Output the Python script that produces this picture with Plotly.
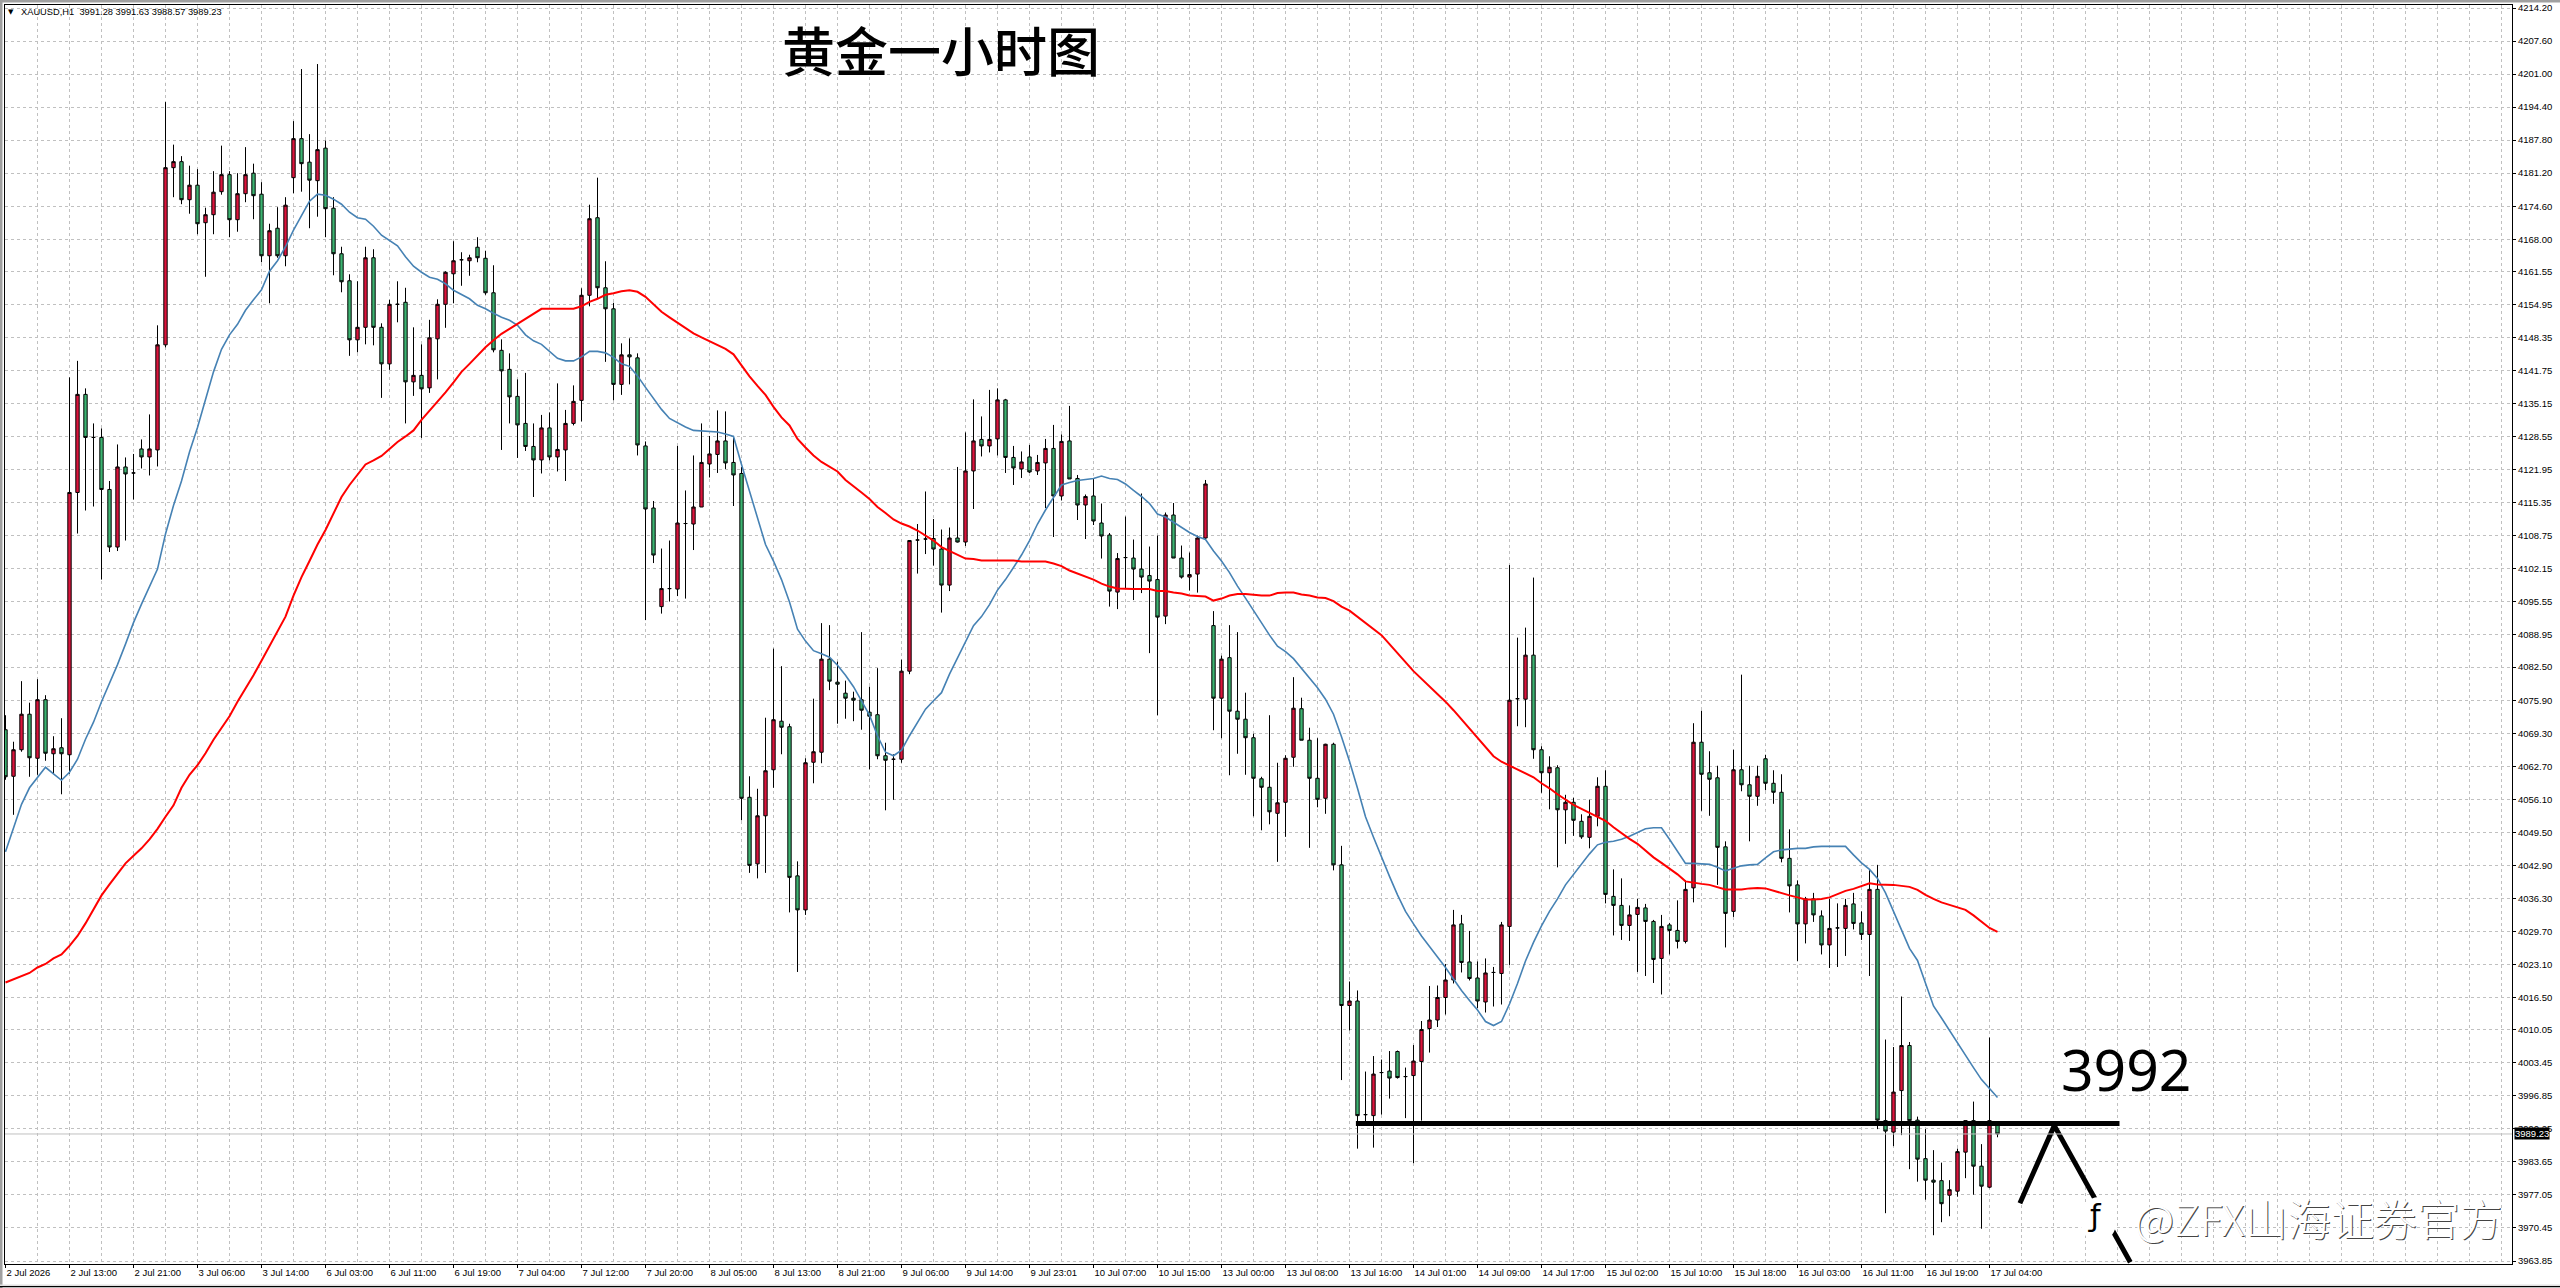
import plotly.graph_objects as go

highs = [
4072.9,4067.6,4079.7,4075.4,4080.1,4076.9,4068.7,4072.3,4140.4,4143.7,
4138.2,4131.2,4130.2,4119.7,4127.0,4124.4,4125.1,4128.0,4133.0,4150.8,
4195.4,4186.9,4184.6,4182.7,4182.0,4174.3,4181.6,4186.7,4181.6,4181.2,
4186.4,4183.1,4179.4,4171.1,4174.4,4176.4,4191.6,4202.0,4189.0,4203.0,
4187.7,4176.4,4166.5,4161.0,4159.6,4166.5,4166.0,4151.2,4155.9,4159.6,
4158.3,4150.4,4147.0,4151.9,4156.0,4161.6,4167.6,4165.4,4164.9,4168.4,
4165.7,4162.8,4148.0,4145.2,4140.0,4141.3,4131.2,4132.9,4133.4,4139.2,
4133.9,4138.8,4158.2,4174.9,4180.3,4163.6,4155.3,4147.2,4148.2,4145.2,
4127.6,4115.7,4106.2,4107.8,4126.7,4117.8,4124.8,4131.2,4128.7,4133.8,
4133.6,4128.7,4122.5,4060.7,4058.2,4072.4,4086.2,4082.7,4071.2,4043.7,
4064.3,4076.2,4091.3,4090.9,4083.6,4079.8,4077.6,4089.5,4078.6,4082.3,
4067.4,4065.1,4084.0,4107.8,4111.1,4117.6,4112.1,4110.0,4110.4,4122.5,
4129.4,4136.0,4132.6,4137.9,4138.2,4136.1,4126.7,4125.6,4126.9,4124.9,
4128.1,4130.9,4129.0,4134.7,4120.9,4117.0,4120.1,4115.2,4109.3,4105.3,
4112.6,4108.0,4117.2,4106.6,4108.8,4113.4,4115.3,4106.8,4105.4,4108.8,
4119.9,4093.7,4084.8,4090.9,4089.5,4077.4,4069.2,4060.6,4072.9,4063.4,
4064.9,4080.5,4076.4,4070.4,4068.3,4067.2,4067.4,4046.8,4019.7,4017.9,
4001.7,4004.8,4004.1,4005.8,4005.9,4002.5,4007.0,4011.8,4018.8,4018.9,
4023.2,4034.0,4033.0,4029.8,4023.7,4024.3,4022.6,4031.6,4102.9,4088.4,
4090.4,4100.4,4066.7,4064.7,4062.9,4057.0,4056.4,4053.1,4056.0,4060.5,
4061.9,4042.1,4040.3,4034.9,4036.2,4035.2,4032.0,4033.0,4031.4,4035.9,
4039.9,4071.3,4073.8,4065.7,4062.8,4047.7,4066.0,4081.0,4062.8,4062.8,
4065.0,4061.9,4061.1,4050.1,4039.9,4036.6,4037.4,4033.9,4036.2,4035.3,
4036.2,4037.4,4033.7,4042.1,4043.0,4008.1,4006.6,4016.7,4007.6,3992.7,
3990.2,3986.0,3983.5,3980.0,3986.3,3991.9,3995.7,3987.2,4008.5,3991.63]

opens = [
4070.0,4060.7,4066.0,4073.1,4064.3,4076.0,4065.2,4066.4,4065.0,4117.4,
4137.0,4128.4,4128.4,4118.0,4106.5,4122.5,4121.3,4126.1,4124.5,4125.9,
4146.9,4182.3,4183.5,4175.9,4178.8,4171.3,4172.9,4177.5,4180.9,4171.9,
4177.1,4181.2,4177.0,4164.7,4170.2,4164.7,4180.3,4188.1,4183.4,4179.7,
4186.2,4174.2,4165.1,4159.7,4147.9,4150.4,4164.3,4150.4,4143.1,4155.0,
4155.4,4139.5,4140.8,4138.3,4148.1,4155.0,4161.1,4163.9,4163.7,4166.4,
4164.2,4157.3,4145.8,4142.0,4136.6,4131.2,4126.6,4123.9,4130.3,4124.5,
4125.9,4131.2,4135.8,4156.8,4172.3,4158.3,4154.1,4139.0,4144.9,4144.3,
4126.7,4114.3,4094.6,4098.2,4098.1,4111.2,4111.1,4114.5,4123.1,4125.0,
4127.7,4123.4,4121.2,4056.5,4043.2,4052.8,4062.0,4071.7,4070.6,4040.8,
4034.0,4063.5,4065.5,4084.1,4079.5,4077.3,4076.3,4076.0,4073.5,4073.0,
4064.8,4064.1,4064.1,4081.7,4107.9,4108.1,4108.2,4106.1,4098.9,4108.3,
4107.5,4121.7,4128.0,4126.7,4128.1,4135.9,4124.4,4122.1,4124.5,4121.7,
4123.3,4126.2,4116.7,4127.7,4120.2,4114.9,4116.7,4111.3,4108.9,4097.5,
4104.4,4104.3,4102.1,4100.8,4100.0,4092.7,4112.9,4104.3,4100.5,4101.1,
4108.3,4090.8,4076.3,4084.4,4073.7,4072.1,4068.4,4060.2,4058.5,4053.3,
4055.5,4064.5,4074.2,4067.9,4060.3,4056.3,4067.1,4043.0,4014.9,4015.8,
3993.1,3992.9,4001.5,4001.8,4005.7,4000.7,4000.9,4003.7,4010.3,4012.0,
4016.5,4020.0,4031.2,4023.6,4020.4,4015.6,4021.5,4021.3,4030.7,4076.2,
4076.1,4084.9,4066.0,4061.4,4062.4,4054.0,4055.5,4051.7,4048.5,4052.7,
4058.7,4036.7,4034.9,4030.9,4033.1,4034.4,4031.7,4024.3,4031.0,4029.9,
4027.7,4038.4,4067.5,4061.4,4060.4,4046.6,4033.7,4062.0,4059.0,4056.7,
4064.2,4059.3,4057.5,4044.3,4039.0,4031.2,4036.2,4032.8,4027.0,4030.4,
4030.3,4035.2,4031.4,4029.1,4038.1,3991.9,3989.6,3997.9,4006.9,3992.0,
3984.3,3980.0,3979.9,3977.0,3977.8,3985.6,3991.9,3982.8,3978.6,3991.28]

closes = [
4060.6,4066.0,4073.1,4064.4,4076.0,4065.3,4066.2,4065.2,4117.4,4137.0,
4128.4,4128.4,4118.0,4106.5,4122.5,4121.1,4121.3,4124.5,4126.1,4146.9,
4182.3,4183.5,4175.9,4178.8,4171.1,4172.9,4177.4,4180.9,4171.9,4177.1,
4180.9,4176.7,4164.7,4169.7,4164.7,4174.8,4188.1,4183.1,4179.8,4185.9,
4174.1,4165.1,4159.5,4147.9,4150.4,4164.3,4150.4,4143.1,4155.0,4155.0,
4139.5,4140.8,4138.1,4148.3,4155.0,4161.4,4163.7,4163.9,4164.3,4164.3,
4157.3,4145.9,4141.7,4136.5,4130.9,4126.6,4123.9,4130.3,4124.5,4126.0,
4131.2,4135.6,4156.8,4172.1,4158.3,4154.1,4139.0,4144.9,4144.5,4126.9,
4114.1,4104.9,4098.2,4098.2,4111.3,4111.2,4114.5,4123.4,4125.1,4127.7,
4123.3,4120.9,4056.3,4042.9,4052.8,4061.8,4072.0,4070.5,4040.5,4034.0,
4063.4,4065.6,4084.1,4079.7,4079.1,4076.3,4075.9,4073.9,4072.7,4064.8,
4063.9,4064.1,4081.7,4107.8,4107.9,4108.1,4106.1,4098.9,4108.3,4107.5,
4121.7,4127.7,4126.7,4128.0,4135.9,4124.4,4122.3,4123.5,4121.5,4123.4,
4126.2,4116.7,4127.6,4120.1,4114.9,4116.6,4111.7,4108.7,4097.7,4104.2,
4104.4,4102.1,4100.5,4099.7,4092.5,4112.9,4104.3,4100.5,4101.0,4108.3,
4119.1,4076.3,4084.1,4073.7,4072.1,4068.4,4060.3,4058.5,4053.6,4055.4,
4064.3,4074.3,4067.9,4060.3,4056.1,4067.1,4043.0,4014.9,4015.8,3992.9,
3993.1,4001.2,4001.5,4000.4,4000.5,4000.7,4003.8,4010.1,4012.0,4016.5,
4020.0,4031.0,4023.5,4020.3,4015.8,4021.4,4021.5,4031.0,4075.9,4076.2,
4084.9,4066.0,4061.4,4062.5,4054.0,4055.5,4051.9,4048.6,4052.7,4058.7,
4037.1,4034.9,4030.9,4033.0,4034.5,4031.7,4024.1,4030.7,4029.9,4027.7,
4038.1,4067.5,4061.1,4060.1,4046.5,4033.3,4062.0,4059.0,4056.7,4060.7,
4059.3,4057.5,4044.3,4038.8,4031.2,4036.2,4033.0,4027.0,4030.3,4030.4,
4034.9,4031.3,4029.1,4038.1,3992.0,3989.8,3997.6,4006.9,3991.9,3984.2,
3980.0,3979.6,3975.3,3978.1,3985.7,3991.9,3982.8,3978.8,3991.9,3989.23]

lows = [
4060.0,4053.0,4065.6,4060.6,4061.0,4063.8,4061.2,4057.1,4061.2,4109.2,
4113.8,4114.6,4100.0,4105.5,4105.7,4107.8,4116.0,4122.2,4120.8,4122.6,
4146.4,4176.4,4175.0,4173.1,4169.0,4160.5,4169.0,4176.9,4168.4,4169.5,
4175.4,4172.0,4163.4,4155.2,4164.3,4162.6,4177.2,4177.5,4170.2,4172.5,
4168.4,4160.8,4157.4,4144.7,4145.4,4147.0,4146.8,4136.3,4141.9,4151.4,
4131.2,4136.7,4128.3,4137.3,4140.0,4150.3,4155.2,4158.7,4160.7,4163.4,
4156.9,4145.4,4125.9,4131.2,4124.3,4125.7,4116.5,4121.2,4123.8,4121.6,
4119.7,4130.8,4131.6,4154.6,4156.2,4143.5,4135.8,4136.9,4139.0,4124.8,
4091.9,4103.3,4093.2,4095.6,4096.7,4096.2,4105.9,4114.5,4120.4,4121.3,
4122.1,4114.7,4051.9,4041.4,4040.3,4041.4,4058.4,4065.1,4033.5,4021.6,
4033.0,4059.3,4063.3,4077.9,4071.2,4072.2,4071.7,4070.0,4062.1,4064.1,
4053.9,4056.0,4063.4,4081.1,4101.2,4105.1,4102.8,4093.4,4097.7,4107.4,
4106.7,4114.1,4124.6,4125.4,4124.8,4121.3,4118.9,4120.3,4121.3,4120.9,
4114.3,4108.5,4115.8,4120.1,4111.9,4108.1,4110.9,4104.2,4094.6,4094.1,
4098.2,4095.9,4097.3,4085.3,4072.9,4091.1,4104.3,4100.2,4097.8,4097.4,
4108.0,4069.9,4068.3,4060.9,4065.2,4061.0,4052.7,4049.9,4051.1,4043.6,
4048.6,4062.6,4067.9,4046.4,4054.5,4053.2,4041.9,4000.0,4009.9,3986.3,
3991.5,3986.5,3993.1,3996.3,4000.3,3992.4,3983.4,3991.9,4005.5,4010.6,
4013.1,4019.3,4021.5,4019.9,4014.4,4013.5,4014.7,4015.1,4023.0,4070.7,
4070.5,4064.2,4057.4,4054.1,4042.5,4047.2,4048.8,4048.2,4046.3,4050.7,
4035.3,4028.9,4028.0,4027.8,4021.6,4020.8,4019.4,4017.1,4025.1,4026.3,
4027.3,4035.5,4053.8,4052.8,4039.0,4026.5,4032.6,4057.7,4047.7,4054.8,
4057.9,4055.2,4043.5,4033.5,4023.8,4027.3,4031.6,4025.1,4022.4,4022.6,
4024.8,4030.1,4028.0,4020.8,3990.2,3973.4,3986.8,3989.0,3982.2,3979.7,
3976.1,3969.0,3971.6,3972.8,3976.7,3980.4,3977.1,3970.3,3978.4,3988.57]

fast_ma = [
4045.6,4050.2,4055.1,4058.4,4060.4,4062.5,4061.2,4059.9,4061.5,4064.1,
4068.1,4071.5,4075.6,4079.3,4083.0,4087.1,4091.4,4095.1,4098.6,4102.1,
4109.1,4114.8,4119.7,4125.5,4130.4,4136.2,4141.5,4146.0,4148.9,4151.0,
4153.8,4155.9,4157.9,4161.6,4163.7,4166.5,4169.8,4172.7,4175.6,4177.0,
4176.8,4176.0,4175.0,4173.4,4172.3,4172.0,4170.6,4168.8,4167.8,4166.7,
4164.5,4162.6,4161.4,4160.4,4160.0,4159.1,4157.8,4156.9,4156.1,4154.8,
4154.1,4153.2,4152.4,4151.8,4150.8,4148.9,4147.7,4147.0,4145.6,4144.2,
4143.7,4143.7,4144.5,4145.6,4145.6,4145.3,4144.4,4143.1,4142.6,4140.7,
4138.4,4136.3,4134.0,4132.2,4131.3,4130.5,4129.8,4129.7,4129.7,4129.5,
4129.1,4128.6,4123.0,4117.6,4112.3,4107.0,4103.7,4100.0,4095.5,4090.1,
4087.7,4085.8,4085.2,4084.5,4082.9,4080.9,4078.6,4075.8,4072.9,4068.8,
4065.5,4064.8,4065.9,4068.8,4071.6,4074.1,4075.8,4077.4,4081.1,4084.4,
4087.7,4090.8,4092.6,4095.0,4097.9,4100.0,4102.4,4104.9,4107.8,4111.1,
4113.9,4116.4,4118.9,4119.4,4119.8,4120.0,4120.2,4120.7,4120.2,4120.0,
4119.1,4117.8,4116.6,4115.2,4113.1,4112.5,4111.5,4110.4,4109.4,4108.6,
4108.0,4105.7,4103.7,4101.4,4098.7,4096.3,4093.8,4091.4,4088.9,4086.7,
4085.6,4084.2,4082.3,4080.3,4078.4,4076.1,4073.1,4068.6,4063.7,4058.3,
4052.6,4048.5,4044.4,4040.7,4037.0,4033.7,4031.2,4028.8,4026.7,4024.7,
4022.5,4020.2,4017.9,4015.9,4014.0,4011.7,4010.9,4011.7,4015.2,4019.3,
4023.8,4027.5,4030.8,4033.7,4036.2,4039.0,4041.1,4043.1,4045.2,4047.0,
4047.5,4047.7,4048.1,4048.7,4049.5,4050.2,4050.4,4050.4,4048.1,4045.6,
4043.3,4043.3,4043.2,4043.1,4042.5,4041.8,4042.3,4042.8,4043.0,4043.1,
4044.4,4045.6,4046.0,4046.2,4046.3,4046.3,4046.6,4046.7,4046.7,4046.7,
4046.7,4045.0,4043.4,4042.1,4040.3,4037.4,4033.7,4030.0,4026.3,4023.9,
4019.4,4014.8,4012.4,4009.9,4007.5,4004.8,4002.5,4000.1,3998.3,3996.5]

slow_ma = [
4019.5,4020.1,4020.8,4021.4,4022.5,4023.2,4024.3,4025.1,4026.8,4028.8,
4031.3,4034.1,4036.9,4039.1,4041.3,4043.3,4044.8,4046.3,4048.1,4050.2,
4052.6,4054.9,4058.4,4061.0,4062.9,4065.3,4068.0,4070.3,4072.7,4075.6,
4078.2,4080.9,4083.8,4086.7,4089.4,4092.6,4096.8,4100.5,4103.7,4107.0,
4109.9,4113.2,4116.5,4118.9,4121.0,4123.0,4123.8,4124.7,4126.1,4127.5,
4128.6,4129.8,4131.9,4133.7,4135.5,4137.4,4139.4,4141.5,4143.1,4144.8,
4146.4,4147.8,4149.1,4150.1,4151.1,4152.2,4153.2,4154.1,4154.1,4154.1,
4154.1,4154.1,4154.6,4155.5,4156.1,4156.9,4157.2,4157.6,4157.8,4157.5,
4156.5,4155.1,4153.5,4152.4,4151.3,4150.2,4149.2,4148.4,4147.6,4146.9,
4146.1,4145.0,4142.7,4140.6,4138.7,4136.9,4134.5,4132.4,4130.8,4128.1,
4126.4,4124.8,4123.5,4122.5,4121.6,4119.9,4118.7,4117.4,4116.1,4114.5,
4113.3,4112.0,4111.2,4110.6,4109.8,4108.8,4107.8,4106.5,4105.7,4104.9,
4104.2,4104.1,4103.8,4103.8,4103.8,4103.8,4103.8,4103.6,4103.6,4103.6,
4103.6,4103.2,4102.7,4101.8,4101.2,4100.5,4100.0,4099.2,4098.6,4098.2,
4098.1,4098.1,4098.1,4098.1,4097.7,4097.7,4097.4,4097.2,4096.8,4096.7,
4096.6,4095.8,4096.2,4096.8,4097.1,4097.1,4096.9,4096.8,4096.8,4097.3,
4097.4,4097.4,4097.0,4096.8,4096.4,4096.3,4095.7,4094.6,4093.8,4092.6,
4091.3,4090.2,4088.9,4087.1,4085.2,4083.5,4081.7,4080.2,4078.7,4077.2,
4075.6,4073.9,4072.1,4070.2,4068.4,4066.5,4064.7,4063.6,4062.8,4062.0,
4061.3,4060.5,4059.3,4058.3,4057.1,4056.0,4055.0,4054.2,4053.4,4052.6,
4051.8,4050.5,4049.3,4048.2,4047.2,4045.9,4044.5,4043.4,4042.3,4041.1,
4039.7,4039.4,4039.2,4039.0,4038.5,4038.1,4038.1,4038.1,4038.3,4038.4,
4038.3,4037.8,4037.4,4036.9,4036.5,4036.1,4036.1,4036.2,4036.5,4037.1,
4037.8,4038.2,4038.8,4039.3,4039.1,4039.1,4039.0,4038.8,4038.6,4038.0,
4037.0,4036.2,4035.5,4035.0,4034.5,4034.0,4032.9,4031.7,4030.4,4029.6]

price_ticks = [
"4214.20","4207.60","4201.00","4194.40","4187.80","4181.20","4174.60","4168.00","4161.55","4154.95",
"4148.35","4141.75","4135.15","4128.55","4121.95","4115.35","4108.75","4102.15","4095.55","4088.95",
"4082.50","4075.90","4069.30","4062.70","4056.10","4049.50","4042.90","4036.30","4029.70","4023.10",
"4016.50","4010.05","4003.45","3996.85","3990.25","3983.65","3977.05","3970.45","3963.85"]

time_labels = [
"2 Jul 2026","2 Jul 13:00","2 Jul 21:00","3 Jul 06:00","3 Jul 14:00","6 Jul 03:00","6 Jul 11:00","6 Jul 19:00",
"7 Jul 04:00","7 Jul 12:00","7 Jul 20:00","8 Jul 05:00","8 Jul 13:00","8 Jul 21:00","9 Jul 06:00","9 Jul 14:00",
"9 Jul 23:01","10 Jul 07:00","10 Jul 15:00","13 Jul 00:00","13 Jul 08:00","13 Jul 16:00","14 Jul 01:00","14 Jul 09:00",
"14 Jul 17:00","15 Jul 02:00","15 Jul 10:00","15 Jul 18:00","16 Jul 03:00","16 Jul 11:00","16 Jul 19:00","17 Jul 04:00"]

level_bar = [168.8, 264.25]
level_price = [3991.3, 3991.3]
arrow_bar = [251.8, 256.1, 265.6]
arrow_price = [3975.4, 3990.9, 3963.6]
last_price = 3989.23
title_text = "黄金一小时图"
info_text = "XAUUSD,H1  3991.28 3991.63 3988.57 3989.23"
level_text = "3992"
mark_text = "@ZFX山海证券官方"

W, H = 2560, 1288
L, R, T, B = 5, 2512, 5, 1264
PX_PER_BAR = 8.0
Y_TOP = 4214.2 + 3 / 5.005
Y_BOT = 4214.2 - (B - 8) / 5.005

assert all(len(a) == 250 for a in (highs, opens, closes, lows, fast_ma, slow_ma)), [len(a) for a in (highs, opens, closes, lows, fast_ma, slow_ma)]

def px(x):
    return (x - L) / (R - L)

def py(y):
    return (B - y) / (B - T)

bars = list(range(250))
GRID = "#c0c0c0"
TICKFONT = dict(family="Liberation Sans", size=9.5, color="#000000")

fig = go.Figure()
fig.add_trace(go.Candlestick(
    x=bars, open=opens, high=highs, low=lows, close=closes,
    whiskerwidth=0,
    increasing=dict(fillcolor="#DC143C", line=dict(color="#000000", width=1)),
    decreasing=dict(fillcolor="#3CB371", line=dict(color="#000000", width=1)),
    showlegend=False, name="XAUUSD,H1"))
fig.add_trace(go.Scatter(x=bars, y=fast_ma, mode="lines", line=dict(color="#4682B4", width=1.6), showlegend=False))
fig.add_trace(go.Scatter(x=bars, y=slow_ma, mode="lines", line=dict(color="#FF0000", width=2), showlegend=False))
fig.add_trace(go.Scatter(x=level_bar, y=level_price, mode="lines", line=dict(color="#000000", width=5), showlegend=False))
fig.add_trace(go.Scatter(x=arrow_bar, y=arrow_price, mode="lines", line=dict(color="#000000", width=5), showlegend=False))

shapes = [
    dict(type="line", xref="paper", yref="y", x0=0, x1=1, y0=last_price, y1=last_price,
         line=dict(color="#c0c0c0", width=1), layer="above"),
    dict(type="circle", xref="paper", yref="paper", x0=px(2080), x1=px(2117), y0=py(1242), y1=py(1197),
         fillcolor="#ffffff", line=dict(width=0), layer="above"),
    dict(type="rect", xref="paper", yref="paper", x0=px(0), x1=px(W), y0=py(0), y1=py(2.5),
         fillcolor="#a0a0a0", line=dict(width=0), layer="above"),
    dict(type="rect", xref="paper", yref="paper", x0=px(0), x1=px(2.5), y0=py(0), y1=py(H),
         fillcolor="#a0a0a0", line=dict(width=0), layer="above"),
    dict(type="rect", xref="paper", yref="paper", x0=px(0), x1=px(W), y0=py(1284.5), y1=py(1286),
         fillcolor="#e0e0e0", line=dict(width=0), layer="above"),
    dict(type="rect", xref="paper", yref="paper", x0=px(0), x1=px(W), y0=py(1286), y1=py(1287.2),
         fillcolor="#000000", line=dict(width=0), layer="above"),
]

annotations = [
    dict(xref="paper", yref="paper", x=px(941), y=py(49.5), xanchor="center", yanchor="middle", text=title_text, showarrow=False,
         font=dict(family="Noto Sans CJK SC", size=53, color="#000000", weight=500)),
    dict(xref="paper", yref="paper", x=px(2126), y=py(1068.5), xanchor="center", yanchor="middle", text=level_text, showarrow=False,
         font=dict(family="Noto Sans", size=57, color="#000000")),
    dict(xref="paper", yref="paper", x=px(18.5), y=py(12.5), xanchor="left", yanchor="middle", text=info_text, showarrow=False,
         font=dict(family="Liberation Sans", size=9.3, color="#000000")),
    dict(xref="paper", yref="paper", x=px(11), y=py(12.5), xanchor="center", yanchor="middle", text="▼", showarrow=False,
         font=dict(family="DejaVu Sans", size=7, color="#000000")),
    dict(xref="paper", yref="y", x=1, y=last_price, xanchor="left", yanchor="middle", xshift=2, text=f"{last_price:.2f}", showarrow=False,
         bgcolor="#000000", borderpad=0, font=dict(family="Liberation Sans", size=9.5, color="#ffffff")),
    dict(xref="paper", yref="paper", x=px(2133), y=py(1217), xanchor="left", yanchor="middle", text=mark_text, showarrow=False,
         font=dict(family="Noto Sans CJK SC", size=43, color="#ffffff", weight=300, shadow="1px 1px 0 #444444")),
    dict(xref="paper", yref="paper", x=px(2095), y=py(1215), xanchor="center", yanchor="middle", text="ƒ", showarrow=False,
         font=dict(family="DejaVu Sans", size=30, color="#000000")),
]

fig.update_layout(
    width=W, height=H,
    margin=dict(l=L, r=W - R, t=T, b=H - B, pad=0),
    paper_bgcolor="#ffffff", plot_bgcolor="#ffffff",
    boxgap=0.4,
    showlegend=False, hovermode=False,
    shapes=shapes, annotations=annotations,
    xaxis=dict(
        range=[-0.0625, (R - L) / PX_PER_BAR - 0.0625], rangeslider=dict(visible=False), automargin=False,
        tickmode="array", tickvals=[i * 8 for i in range(len(time_labels))], ticktext=time_labels,
        ticks="outside", ticklen=3, tickwidth=1, tickcolor="#000000",
        ticklabelposition="outside right", tickfont=TICKFONT, tickangle=0,
        showgrid=True, gridcolor=GRID, griddash="3px,3px", gridwidth=1, zeroline=False,
        minor=dict(tickmode="linear", tick0=0, dtick=4, showgrid=True, gridcolor=GRID, griddash="3px,3px", gridwidth=1, ticks=""),
        showline=True, linecolor="#000000", linewidth=1, mirror=True,
    ),
    yaxis=dict(
        range=[Y_BOT, Y_TOP], side="right", automargin=False,
        tickmode="array", tickvals=[float(t) for t in price_ticks], ticktext=price_ticks,
        ticks="outside", ticklen=3, tickwidth=1, tickcolor="#000000", tickfont=TICKFONT,
        showgrid=True, gridcolor=GRID, griddash="3px,3px", gridwidth=1, zeroline=False,
        showline=True, linecolor="#000000", linewidth=1, mirror=True,
    ),
)

fig.write_html("out.html", config=dict(displayModeBar=False),
               post_script="document.body.style.margin='0';document.body.style.overflow='hidden';")
